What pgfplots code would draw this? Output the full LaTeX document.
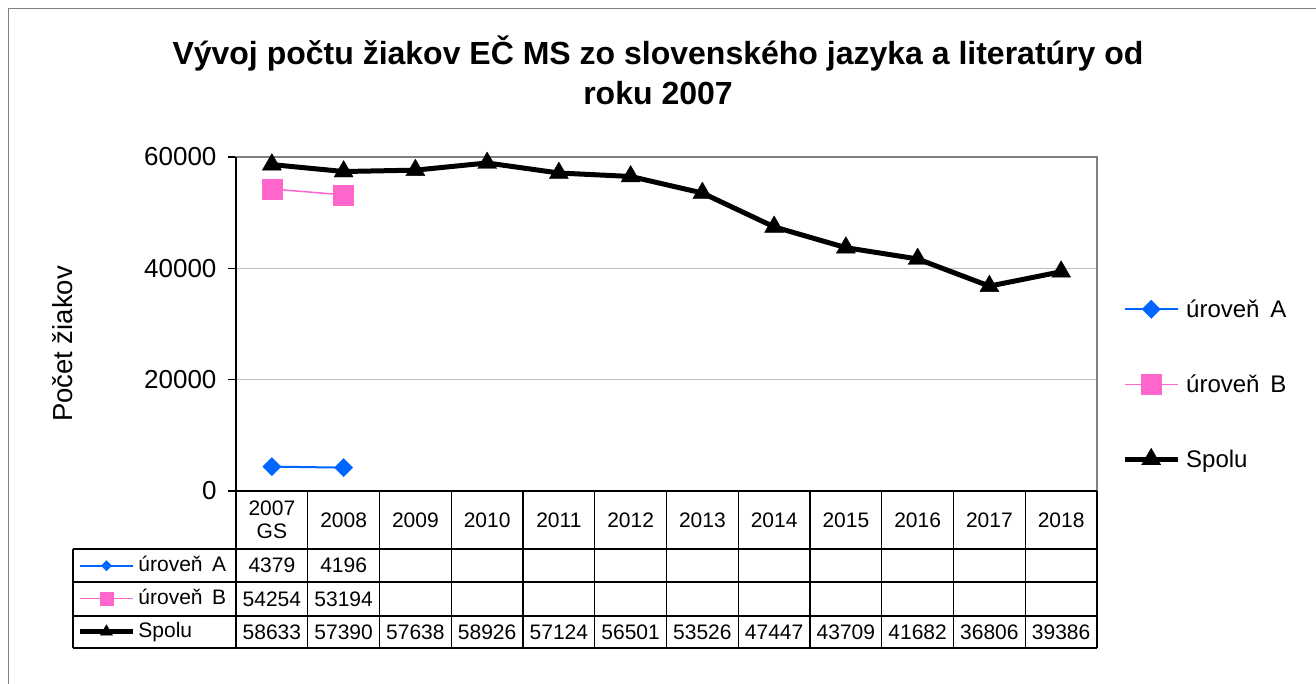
\documentclass[border=0pt]{standalone}
\usepackage{pgfplots}
\pgfplotsset{compat=1.18}
\usepackage{fontspec}
\setmainfont{Liberation Sans}
\definecolor{urA}{HTML}{0066FF}
\definecolor{urB}{HTML}{FF66CC}
\definecolor{framec}{HTML}{808080}
\definecolor{gridc}{HTML}{C0C0C0}

\pgfplotsset{
  keyline/.style={legend image code/.code={%
    \draw[mark repeat=2,mark phase=2,##1] plot coordinates {(0pt,0pt) (26.5pt,0pt) (53pt,0pt)};}},
}

\begin{document}
\begin{tikzpicture}[x=1pt,y=1pt]
\useasboundingbox (0,0) rectangle (1316,684);
\draw[framec, line width=1.2pt] (8.5,0) -- (8.5,675.5) -- (1316,675.5);

\node[font=\fontsize{32}{40}\selectfont\bfseries, align=center] at (658,614)
  {Vývoj počtu žiakov EČ MS zo slovenského jazyka a literatúry od\\roku 2007};
\node[rotate=90, font=\fontsize{27.5}{30}\selectfont] at (63,340) {Počet žiakov};

\begin{axis}[
  at={(236pt,193pt)}, anchor=south west,
  scale only axis, width=861pt, height=334pt,
  xmin=-0.5, xmax=11.5, ymin=0, ymax=60000,
  axis line style={framec, line width=1.2pt},
  ytick={0,20000,40000,60000},
  ytick pos=left,
  tick align=outside,
  major tick length=8pt,
  y tick style={black, line width=1.2pt},
  xtick={0,...,11},
  xticklabels={{2007\\GS},2008,2009,2010,2011,2012,2013,2014,2015,2016,2017,2018},
  x tick style={draw=none},
  xticklabel style={align=center, anchor=center, yshift=-21pt, font=\fontsize{21}{23}\selectfont},
  yticklabel style={font=\fontsize{26}{28}\selectfont, xshift=-8pt},
  ymajorgrids, grid style={gridc, line width=1pt},
  /pgf/number format/assume math mode=true,
  /pgf/number format/set thousands separator={},
  scaled y ticks=false,
  clip=false,
  keyline,
  legend cell align=left,
  legend style={at={(1.029,0.657)}, anchor=north west, draw=none, fill=none,
    inner sep=0pt, row sep=0pt, column sep=6pt,
    font=\fontsize{24}{26}\selectfont,
    nodes={inner sep=0pt, text height=46pt, text depth=29pt}},
]
\addplot[urA, line width=2pt, mark=square*, mark size=6.4pt, mark options={rotate=45, line width=0.4pt}]
  coordinates {(0,4379) (1,4196)};
\addlegendentry{úroveň\hspace{0.45em}A}
\addplot[urB, line width=1.5pt, mark=square*, mark size=10pt, mark options={line width=0.4pt}]
  coordinates {(0,54254) (1,53194)};
\addlegendentry{úroveň\hspace{0.45em}B}
\addplot[black, line width=5pt, line join=round, mark=triangle*, mark size=11pt, mark options={line width=0.4pt}]
  coordinates {(0,58633) (1,57390) (2,57638) (3,58926) (4,57124) (5,56501)
               (6,53526) (7,47447) (8,43709) (9,41682) (10,36806) (11,39386)};
\addlegendentry{Spolu}
\draw[black, line width=1.8pt] (rel axis cs:0,1) -- (rel axis cs:0,0) -- (rel axis cs:1,0);
\end{axis}

% keys of the data table
\begin{axis}[
  at={(73pt,36pt)}, anchor=south west,
  scale only axis, width=164pt, height=99pt,
  hide axis, xmin=0, xmax=1, ymin=0, ymax=1,
  keyline,
  legend cell align=left,
  legend style={at={(0.026,1)}, anchor=north west, draw=none, fill=none,
    inner sep=0pt, row sep=0pt, column sep=3pt,
    font=\fontsize{21}{23}\selectfont,
    nodes={inner sep=0pt, text height=22pt, text depth=11pt}},
]
\addlegendimage{urA, line width=2pt, mark=square*, mark size=3.6pt, mark options={rotate=45, line width=0.4pt}}
\addlegendentry{úroveň\hspace{0.45em}A}
\addlegendimage{urB, line width=1.5pt, mark=square*, mark size=6.5pt, mark options={line width=0.4pt}}
\addlegendentry{úroveň\hspace{0.45em}B}
\addlegendimage{black, line width=5pt, mark=triangle*, mark size=7pt, mark options={line width=0.4pt}}
\addlegendentry{Spolu}
\end{axis}

% data table grid
\foreach \yy in {135,102,68,36} \draw[black, line width=1.2pt] (73,\yy) -- (1097,\yy);
\draw[black, line width=1.2pt] (73,135) -- (73,36);
\foreach \k in {0,...,12} \draw[black, line width=1.2pt] ({236+\k*71.75},193) -- ({236+\k*71.75},36);

% data table values
\begin{scope}[every node/.style={font=\fontsize{21}{23}\selectfont}]
\foreach \v [count=\i from 0] in {4379,4196}
  \node at ({236+(\i+0.5)*71.75},118.5) {\v};
\foreach \v [count=\i from 0] in {54254,53194}
  \node at ({236+(\i+0.5)*71.75},85) {\v};
\foreach \v [count=\i from 0] in {58633,57390,57638,58926,57124,56501,53526,47447,43709,41682,36806,39386}
  \node at ({236+(\i+0.5)*71.75},52) {\v};
\end{scope}
\end{tikzpicture}
\end{document}
